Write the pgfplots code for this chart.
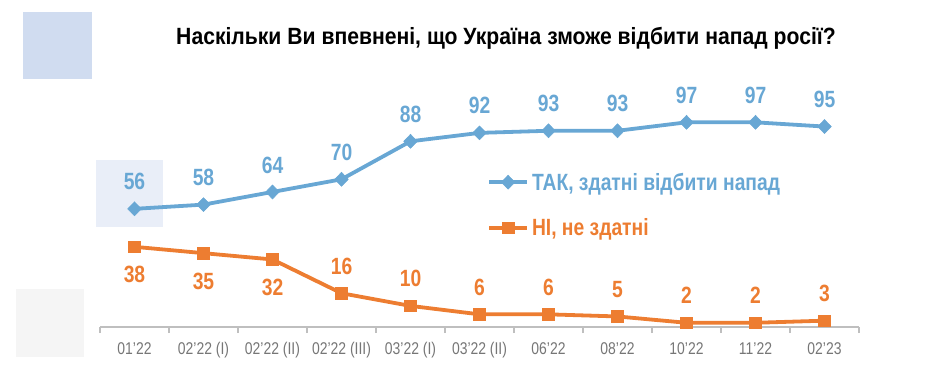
\documentclass[border=0pt]{standalone}
\usepackage{pgfplots}
\usepackage{pgfplotstable}
\pgfplotsset{compat=1.18}
\usepackage{fontspec}
\setmainfont{Liberation Sans}[FakeStretch=0.82]
\newfontfamily\titlefont{Liberation Sans}[FakeStretch=0.9]
\definecolor{tblue}{RGB}{104,167,212}
\definecolor{torange}{RGB}{237,125,49}
\definecolor{axgray}{RGB}{191,191,191}
\definecolor{lblgray}{RGB}{118,118,118}
\definecolor{decoA}{RGB}{208,220,240}
\definecolor{decoB}{RGB}{233,238,248}
\definecolor{decoC}{RGB}{245,245,245}

\pgfplotstableread{
x y sh
0 56 27
1 58 27
2 64 27
3 70 27
4 88 27
5 92 27
6 93 27
7 93 27
8 97 27
9 97 27
10 95 27
}\yesdata
\pgfplotstableread{
x y sh
0 38 -28
1 35 -28
2 32 -28
3 16 27
4 10 27
5 6 27
6 6 27
7 5 27
8 2 27
9 2 27
10 3 27
}\nodata

\begin{document}
\begin{tikzpicture}
\path[use as bounding box] (0pt,0pt) rectangle (947pt,389pt);
% decorative squares
\fill[decoA] (23pt,377pt) rectangle (92pt,310pt);
\fill[decoB] (96pt,229pt) rectangle (163pt,162pt);
\fill[decoC] (16pt,100pt) rectangle (84pt,32pt);
\node[font=\titlefont\fontsize{23.5}{27}\selectfont\bfseries] at (506pt,351pt) {Наскільки Ви впевнені, що Україна зможе відбити напад росії?};
\begin{axis}[
  at={(100pt,62pt)}, anchor=south west,
  scale only axis, width=759pt, height=253.2pt,
  xmin=-0.5, xmax=10.5, ymin=0, ymax=120,
  clip=false,
  /pgf/number format/assume math mode=true,
  axis y line=none, axis x line*=bottom,
  x axis line style={axgray, line width=1.3pt, -},
  xtick={0,...,10},
  xticklabels={01'22,02'22 (I),02'22 (II),02'22 (III),03'22 (I),03'22 (II),06'22,08'22,10'22,11'22,02'23},
  major tick length=0pt,
  ticklabel style={font=\fontsize{17}{20}\selectfont, text=lblgray},
  xticklabel style={yshift=-12pt},
  extra x ticks={-0.5,0.5,...,10.5},
  extra x tick labels={},
  extra x tick style={major tick length=6pt, tick align=outside, tick style={axgray, line width=1.2pt}},
  ytick=\empty,
  nodes near coords,
  visualization depends on={\thisrow{sh} \as \sh},
  every node near coord/.append style={anchor=center, yshift=\sh pt, font=\fontsize{23.5}{27}\selectfont\bfseries},
  legend style={draw=none, fill=none, at={(0.5099,0.482)}, anchor=west,
    font=\fontsize{23.5}{27}\selectfont\bfseries, row sep=23pt, inner sep=0pt,
    nodes={inner xsep=3pt}},
  legend cell align=left,
  legend image code/.code={\draw[mark repeat=2,mark phase=2,#1] plot coordinates {(0pt,0pt) (19pt,0pt) (38pt,0pt)};},
]
\addplot[tblue, line width=3.8pt, mark=diamond*, mark size=7pt, mark options={xscale=1.3, line width=0.5pt}, nodes near coords style={text=tblue}] table[x=x,y=y] {\yesdata};
\addlegendentry[text=tblue]{ТАК, здатні відбити напад}
\addplot[torange, line width=3.8pt, mark=square*, mark size=5.8pt, mark options={line width=0.5pt}, nodes near coords style={text=torange}] table[x=x,y=y] {\nodata};
\addlegendentry[text=torange]{НІ, не здатні}
\end{axis}
\end{tikzpicture}
\end{document}
